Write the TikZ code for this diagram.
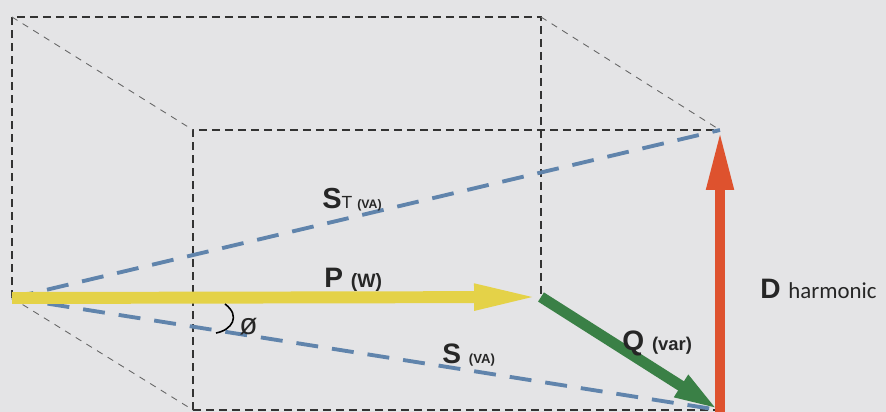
\documentclass[tikz,border=0pt]{standalone}
\usepackage{fontspec}
\setmainfont{Liberation Sans}
\newfontfamily\harmfont{Carlito}
\usepackage{tikz}
\usetikzlibrary{arrows.meta}
\usepackage{xcolor}
\definecolor{paper}{RGB}{228,228,230}
\definecolor{pyellow}{RGB}{228,210,72}
\definecolor{qgreen}{RGB}{58,128,70}
\definecolor{dred}{RGB}{222,82,46}
\definecolor{sblue}{RGB}{96,132,172}

\begin{document}
\begin{tikzpicture}[x=0.02cm,y=-0.02cm,
    frame/.style={draw=black!80,line width=0.8pt,dash pattern=on 0.16cm off 0.1cm},
    slant/.style={draw=black!60,line width=0.5pt,dash pattern=on 0.13cm off 0.12cm},
    apparent/.style={draw=sblue,line width=2.2pt,dash pattern=on 0.44cm off 0.28cm},
    lbl/.style={anchor=base west,inner sep=0pt,text=black!85}]
    \fill[paper] (0,0) rectangle (886,412);
    \useasboundingbox (0,0) rectangle (886,412);
    % corners of the box
    \coordinate (O) at (12,298);
    \coordinate (A) at (12,17);
    \coordinate (B) at (541,17);
    \coordinate (C) at (541,297);
    \coordinate (E) at (193,130);
    \coordinate (F) at (720,130);
    \coordinate (G) at (193,410);
    \coordinate (H) at (719,410);
    \coordinate (Hb) at (720,412);
    \draw[frame] (O) -- (A) -- (B) -- (C);
    \draw[frame] (G) -- (E) -- (F);
    \draw[frame] (G) -- (H);
    \draw[slant] (A) -- (E);
    \draw[slant] (B) -- (F);
    \draw[slant] (O) -- (G);
    % S and S_T
    \draw[apparent] (O) -- (F);
    \draw[apparent] (O) -- (H);
    % P, Q, D
    \draw[pyellow,line width=6.8pt,-{Triangle[length=1.34cm,width=0.47cm]}] (O) -- (C);
    \draw[qgreen,line width=6.2pt,-{Triangle[length=0.9cm,width=0.46cm]}] (C) -- (H);
    \draw[dred,line width=6pt,-{Triangle[length=1.2cm,width=0.5cm]}] (Hb) -- (F);
    % angle
    \draw[line width=0.9pt] (225,304) .. controls (241,316) and (232,330) .. (216,333);
    \node[lbl] (phi) at (239,334) {\fontsize{17}{17}\selectfont ø};
    % labels
    \node[lbl] (lST) at (322,208) {\fontsize{16.5}{16}\selectfont\bfseries S\fontsize{10}{10}\mdseries T \fontsize{7}{7}\bfseries(VA)};
    \node[lbl] (lP) at (324,287) {\fontsize{16}{16}\selectfont\bfseries P\ \fontsize{11}{11}\selectfont(W)};
    \node[lbl] (lS) at (442,363) {\fontsize{16}{16}\selectfont\bfseries S\ \fontsize{7.5}{8}\selectfont(VA)};
    \node[lbl] (lQ) at (622,350) {\fontsize{16}{16}\selectfont\bfseries Q\ \fontsize{10.5}{11}\selectfont(var)};
    \node[lbl] (lD) at (760,298) {\fontsize{16}{16}\selectfont\bfseries D\ \harmfont\mdseries\fontsize{13}{13}\selectfont harmonic};
\end{tikzpicture}
\end{document}
